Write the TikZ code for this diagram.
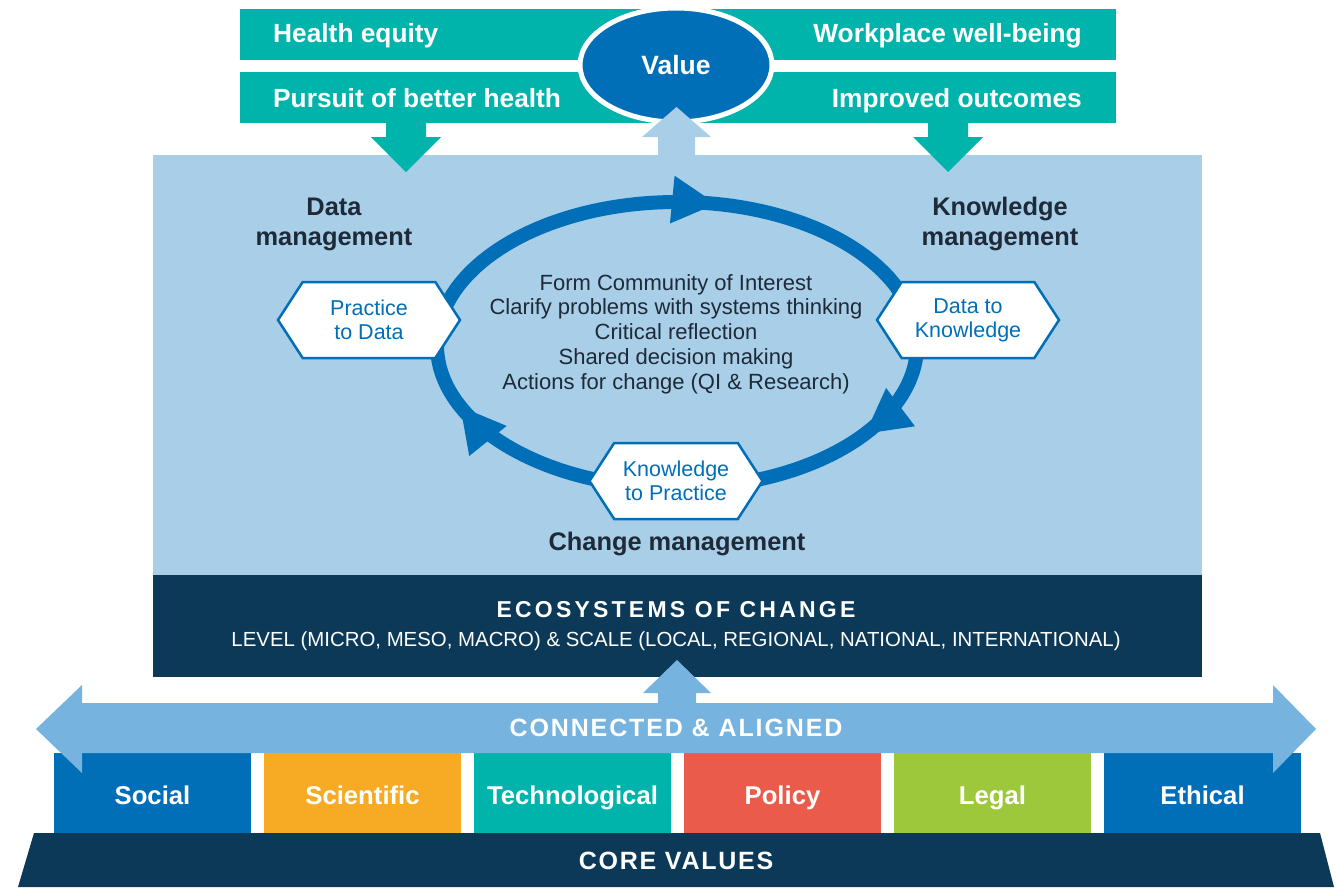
\documentclass[tikz,border=0pt]{standalone}
\usepackage{fontspec}
\setmainfont{Liberation Sans}
\usetikzlibrary{arrows.meta,positioning,shapes.symbols,decorations.markings}
\definecolor{tealc}{RGB}{0,180,172}
\definecolor{valueblue}{RGB}{0,111,184}
\definecolor{panelblue}{RGB}{168,206,232}
\definecolor{navyc}{RGB}{11,57,87}
\definecolor{pilblue}{RGB}{118,179,222}
\definecolor{orangec}{RGB}{247,171,36}
\definecolor{redc}{RGB}{235,91,75}
\definecolor{greenc}{RGB}{158,200,60}
\definecolor{darktxt}{RGB}{30,42,56}
\tikzset{
    %Define standard arrow tip
    >={Triangle[width=48pt,length=44pt,line width=0pt]},
    %Define style for the hexagons
    hexpunkt/.style={
           signal, signal to=east and west,
           signal pointer angle=114,
           draw=valueblue, line width=2.5pt, fill=white,
           minimum width=182pt, minimum height=76pt,
           inner sep=2pt, align=center, text=valueblue,
           font=\fontsize{21.5}{24}\selectfont},
    %Define style for the coloured blocks
    blokk/.style={
           rectangle,
           minimum width=197pt, minimum height=80pt,
           text height=23pt, text depth=0pt,
           text=white,
           font=\bfseries\fontsize{25.7}{30}\selectfont},
    toptekst/.style={
           text=white, inner sep=0pt,
           font=\bfseries\fontsize{26.3}{30}\selectfont},
    mgmt/.style={
           text=darktxt, align=center, inner sep=0pt,
           font=\bfseries\fontsize{25.4}{30}\selectfont},
    spaced/.style={
           text=white,
           font=\bfseries\fontsize{25}{28}\selectfont\addfontfeature{LetterSpace=#1}},
    % Define style for the cycle
    ring/.style={
           draw=valueblue, line width=14pt,
           postaction={decorate},
           decoration={markings,
             mark=at position 0.087 with {\arrow{>}},
             mark=at position 0.445 with {\arrow{>}},
             mark=at position 0.782 with {\arrow{>}}}}
}
\begin{document}
\begin{tikzpicture}[x=1pt,y=-1pt]
\useasboundingbox (0,0) rectangle (1342,887);
% panel and ecosystems box
\fill[panelblue] (153,155) rectangle (1202,575);
\fill[navyc] (153,575) rectangle (1202,677);
\node[spaced=14, font=\bfseries\fontsize{23}{28}\selectfont\addfontfeature{LetterSpace=14}] (eco) at (676,610) {ECOSYSTEMS OF CHANGE};
\node[text=white, font=\fontsize{20.4}{24}\selectfont] (level) at (676,641) {LEVEL (MICRO, MESO, MACRO) \& SCALE (LOCAL, REGIONAL, NATIONAL, INTERNATIONAL)};
% top bars
\fill[tealc] (240,9) rectangle (1116,60);
\fill[tealc] (240,72) rectangle (1116,123);
\node[toptekst, anchor=base west] (equity) at (273,42) {Health equity};
\node[toptekst, anchor=base west] (pursuit) at (273,107) {Pursuit of better health};
\node[toptekst, anchor=base east] (wellbeing) at (1082,42) {Workplace well-being};
\node[toptekst, anchor=base east] (outcomes) at (1082,107) {Improved outcomes};
\draw[fill=valueblue, draw=white, line width=5pt] (676,65) ellipse [x radius=96, y radius=57];
\node[toptekst, font=\bfseries\fontsize{26.5}{30}\selectfont] (value) at (676,65) {Value};
% block arrows to and from the panel
\fill[panelblue] (658,155) -- (658,137) -- (642,137) -- (676.5,107) -- (711,137) -- (695,137) -- (695,155) -- cycle;
\foreach \cx in {406,948}
  \fill[tealc] (\cx-20,123) -- (\cx+20,123) -- (\cx+20,137) -- (\cx+35,137) -- (\cx,172) -- (\cx-35,137) -- (\cx-20,137) -- cycle;
% the cycle
\coordinate (cyc) at (677,345);
\draw[ring] (cyc) ellipse [x radius=240, y radius=143];
\node[hexpunkt] (ptd) at (369,320) {Practice\\to Data};
\node[hexpunkt] (dtk) at (968,320) {Data to\\Knowledge};
\node[hexpunkt, minimum width=173pt] (ktp) at (676,481) {Knowledge\\to Practice};
\node[mgmt] (dm) at (334,224) {Data\\management};
\node[mgmt] (km) at (1000,224) {Knowledge\\management};
\node[mgmt] (cm) at (677,544) {Change management};
\node[text=darktxt, align=center, font=\fontsize{22}{24.7}\selectfont] (steps) at (676,334) {Form Community of Interest\\Clarify problems with systems thinking\\Critical reflection\\Shared decision making\\Actions for change (QI \& Research)};
% coloured blocks
\foreach \lbl/\col [count=\i from 0] in {Social/valueblue, Scientific/orangec, Technological/tealc, Policy/redc, Legal/greenc, Ethical/valueblue}
  \node[blokk, fill=\col] (b\i) at ({152.5+210*\i},793) {\lbl};
% connected and aligned arrow
\fill[pilblue] (82,703) -- (1273,703) -- (1273,685) -- (1316,729) -- (1273,773) -- (1273,753) -- (82,753) -- (82,773) -- (36,729) -- (82,685) -- cycle;
\fill[pilblue] (658,705) -- (658,693) -- (643,693) -- (677,660) -- (711,693) -- (696,693) -- (696,705) -- cycle;
\node[spaced=7.5] (conn) at (676,728) {CONNECTED \& ALIGNED};
% core values
\fill[navyc] (34,833) -- (1320,833) -- (1334,887) -- (18,887) -- cycle;
\node[spaced=7] (core) at (676,861) {CORE VALUES};
\end{tikzpicture}
\end{document}
